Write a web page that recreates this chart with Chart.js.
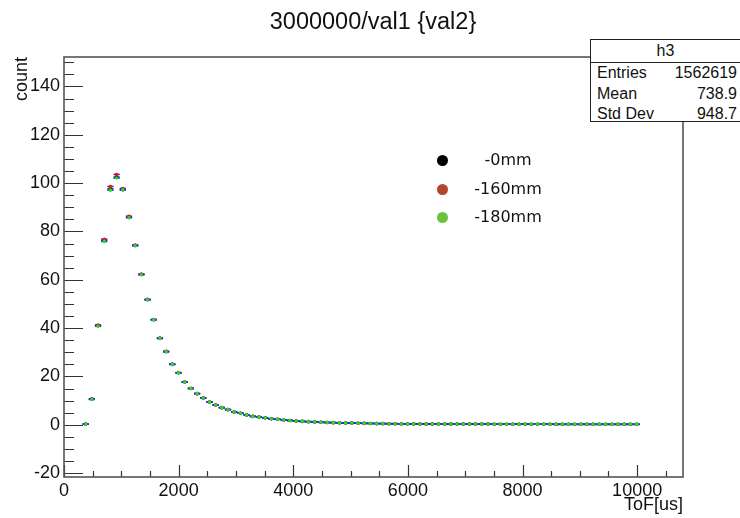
<!DOCTYPE html>
<html lang="en">
<head>
  <meta charset="UTF-8">
  <title>3000000/val1 {val2}</title>
  <script src="https://cdn.jsdelivr.net/npm/chart.js"></script>
  <style>
    body { margin: 0; background: #fff; }
    .wrap { position: relative; width: 740px; height: 518px; }
    .title {
      position: absolute; left: 0; width: 746px; top: 8px;
      text-align: center; font: 23.5px "Liberation Sans", Arial, sans-serif; color: #111;
    }
    .stats {
      position: absolute; left: 590px; top: 39px; width: 149px; height: 81px;
      border: 1px solid #222; background: #fff;
      font: 16px "Liberation Sans", Arial, sans-serif; color: #111;
    }
    .stats .head { height: 22px; line-height: 22px; text-align: center; border-bottom: 1px solid #222; }
    .stats .row { height: 20.5px; line-height: 20.5px; padding: 0 3px 0 6px; display: flex; justify-content: space-between; }
    .legend { position: absolute; left: 420px; top: 146px; font: 16px "DejaVu Sans", sans-serif; color: #111; }
    .legend .item { position: relative; height: 28.5px; width: 160px; }
    .legend .dot { position: absolute; left: 17px; top: 9px; width: 11px; height: 11px; border-radius: 50%; }
    .legend .lbl { position: absolute; left: 48px; width: 80px; top: 4px; text-align: center; }
  </style>
</head>
<body>
  <div class="wrap">
    <canvas id="tofChart" width="740" height="518"></canvas>
    <div class="title">3000000/val1 {val2}</div>
    <div class="legend" id="legend"></div>
    <div class="stats">
      <div class="head">h3</div>
      <div class="row"><span>Entries</span><span>1562619</span></div>
      <div class="row"><span>Mean</span><span>738.9</span></div>
      <div class="row"><span>Std Dev</span><span>948.7</span></div>
    </div>
  </div>

  <script>
    // bin centres of the ToF histogram (us)
    const binCenters = [
      378, 486, 594, 702, 810, 918, 1026, 1134, 1242, 1350,
      1458, 1566, 1674, 1782, 1890, 1998, 2106, 2214, 2322, 2430,
      2538, 2646, 2754, 2862, 2970, 3078, 3186, 3294, 3402, 3510,
      3618, 3726, 3834, 3942, 4050, 4158, 4266, 4374, 4482, 4590,
      4698, 4806, 4914, 5022, 5130, 5238, 5346, 5454, 5562, 5670,
      5778, 5886, 5994, 6102, 6210, 6318, 6426, 6534, 6642, 6750,
      6858, 6966, 7074, 7182, 7290, 7398, 7506, 7614, 7722, 7830,
      7938, 8046, 8154, 8262, 8370, 8478, 8586, 8694, 8802, 8910,
      9018, 9126, 9234, 9342, 9450, 9558, 9666, 9774, 9882, 9990
    ];
    const seriesNames = ['-0mm', '-160mm', '-180mm'];
    const counts0 = [
      0.3, 10.6, 41.0, 76.2, 97.6, 102.5, 97.3, 85.9, 74.2, 62.2,
      51.8, 43.5, 35.8, 30.3, 25.0, 21.5, 17.7, 15.0, 12.9, 11.1,
      9.4, 8.2, 7.1, 6.3, 5.3, 4.8, 4.1, 3.5, 3.2, 2.9,
      2.5, 2.3, 2.0, 1.8, 1.6, 1.4, 1.3, 1.2, 1.05, 0.95,
      0.9, 0.8, 0.75, 0.7, 0.65, 0.6, 0.55, 0.5, 0.5, 0.45,
      0.45, 0.4, 0.4, 0.4, 0.35, 0.35, 0.35, 0.35, 0.3, 0.3,
      0.3, 0.3, 0.3, 0.3, 0.3, 0.3, 0.25, 0.25, 0.25, 0.25,
      0.25, 0.25, 0.25, 0.25, 0.25, 0.25, 0.2, 0.2, 0.2, 0.2,
      0.2, 0.2, 0.2, 0.2, 0.2, 0.2, 0.2, 0.2, 0.2, 0.2
    ];
    const counts160 = [
      0.3, 10.8, 41.3, 76.8, 98.6, 103.6, 97.8, 86.3, 74.4, 62.4,
      51.9, 43.6, 35.9, 30.4, 25.1, 21.6, 17.8, 15.1, 12.9, 11.1,
      9.4, 8.2, 7.1, 6.3, 5.3, 4.8, 4.1, 3.5, 3.2, 2.9,
      2.5, 2.3, 2.0, 1.8, 1.6, 1.4, 1.3, 1.2, 1.05, 0.95,
      0.9, 0.8, 0.75, 0.7, 0.65, 0.6, 0.55, 0.5, 0.5, 0.45,
      0.45, 0.4, 0.4, 0.4, 0.35, 0.35, 0.35, 0.35, 0.3, 0.3,
      0.3, 0.3, 0.3, 0.3, 0.3, 0.3, 0.25, 0.25, 0.25, 0.25,
      0.25, 0.25, 0.25, 0.25, 0.25, 0.25, 0.2, 0.2, 0.2, 0.2,
      0.2, 0.2, 0.2, 0.2, 0.2, 0.2, 0.2, 0.2, 0.2, 0.2
    ];
    const counts180 = [
      0.3, 10.5, 40.8, 75.9, 97.1, 102.1, 97.2, 85.7, 74.1, 62.1,
      51.7, 43.4, 35.7, 30.2, 25.0, 21.5, 17.7, 15.0, 12.9, 11.1,
      9.4, 8.2, 7.1, 6.3, 5.3, 4.8, 4.1, 3.5, 3.2, 2.9,
      2.5, 2.3, 2.0, 1.8, 1.6, 1.4, 1.3, 1.2, 1.05, 0.95,
      0.9, 0.8, 0.75, 0.7, 0.65, 0.6, 0.55, 0.5, 0.5, 0.45,
      0.45, 0.4, 0.4, 0.4, 0.35, 0.35, 0.35, 0.35, 0.3, 0.3,
      0.3, 0.3, 0.3, 0.3, 0.3, 0.3, 0.25, 0.25, 0.25, 0.25,
      0.25, 0.25, 0.25, 0.25, 0.25, 0.25, 0.2, 0.2, 0.2, 0.2,
      0.2, 0.2, 0.2, 0.2, 0.2, 0.2, 0.2, 0.2, 0.2, 0.2
    ];
    const xTicks = [0, 2000, 4000, 6000, 8000, 10000];
    const yTicks = [-20, 0, 20, 40, 60, 80, 100, 120, 140];

    const markerColors = ['#000000', '#f01010', '#22e022'];
    const legendColors = ['#000000', '#b5442f', '#6cc23e'];
    const errColor = '#2b2bc0';

    function toPoints(vals) {
      return binCenters.map((x, i) => ({ x: x, y: vals[i] }));
    }

    const allCounts = [counts0, counts160, counts180];
    const datasets = [];
    allCounts.forEach((vals, s) => {
      // horizontal error bar = bin width, drawn as a line marker
      datasets.push({
        label: seriesNames[s] + ' err',
        data: toPoints(vals),
        showLine: false,
        pointStyle: 'line',
        pointRadius: 3.1,
        pointBorderWidth: 1.6,
        pointBorderColor: errColor,
        order: 10 - s * 2
      });
      datasets.push({
        label: seriesNames[s],
        data: toPoints(vals),
        showLine: false,
        pointStyle: 'circle',
        pointRadius: 1.8,
        pointBorderWidth: 0,
        pointBackgroundColor: markerColors[s],
        order: 9 - s * 2
      });
    });

    // inward ticks and frame like a ROOT canvas
    const frameTicks = {
      id: 'frameTicks',
      afterDatasetsDraw(chart) {
        const { ctx, chartArea: a, scales: { x, y } } = chart;
        ctx.save();
        ctx.strokeStyle = '#333';
        ctx.lineWidth = 1.2;
        ctx.beginPath();
        for (let v = Math.ceil(y.min / 5) * 5; v <= y.max; v += 5) {
          const py = Math.round(y.getPixelForValue(v)) + 0.5;
          const len = (v % 20 === 0) ? 19 : 10;
          ctx.moveTo(a.left, py);
          ctx.lineTo(a.left + len, py);
        }
        for (let v = Math.ceil(x.min / 500) * 500; v <= x.max; v += 500) {
          const px = Math.round(x.getPixelForValue(v)) + 0.5;
          const len = (v % 2000 === 0) ? 12 : 6;
          ctx.moveTo(px, a.bottom);
          ctx.lineTo(px, a.bottom - len);
        }
        ctx.stroke();
        ctx.strokeStyle = '#555';
        ctx.lineWidth = 1.6;
        ctx.strokeRect(a.left, a.top, a.right - a.left, a.bottom - a.top);
        ctx.restore();
      }
    };

    const tickFont = { family: '"Liberation Sans", Arial, sans-serif', size: 18 };

    new Chart(document.getElementById('tofChart'), {
      type: 'scatter',
      data: { datasets: datasets },
      plugins: [frameTicks],
      options: {
        responsive: false,
        animation: false,
        layout: { padding: { top: 57, right: 57, left: 0, bottom: 0 } },
        plugins: {
          legend: { display: false },
          tooltip: { enabled: false },
          title: { display: false }
        },
        scales: {
          x: {
            type: 'linear',
            min: 0,
            max: 10800,
            afterFit(scale) { scale.height = 41; },
            afterBuildTicks(scale) { scale.ticks = xTicks.map(v => ({ value: v })); },
            grid: { display: false, drawTicks: false },
            border: { display: false },
            ticks: { color: '#111', font: tickFont, padding: 3, maxRotation: 0, callback: v => String(v) },
            title: {
              display: true, text: 'ToF[us]', align: 'end', color: '#111',
              font: tickFont, padding: { top: 0, bottom: 2 }
            }
          },
          y: {
            type: 'linear',
            min: -21.6,
            max: 152.2,
            afterFit(scale) { scale.width = 64; },
            afterBuildTicks(scale) { scale.ticks = yTicks.map(v => ({ value: v })); },
            grid: { display: false, drawTicks: false },
            border: { display: false },
            ticks: { color: '#111', font: tickFont, padding: 4, callback: v => String(v) },
            title: {
              display: true, text: 'count', align: 'end', color: '#111',
              font: tickFont, padding: { top: 11, bottom: 0 }
            }
          }
        }
      }
    });

    // legend box inside the frame
    const legendEl = document.getElementById('legend');
    seriesNames.forEach((name, s) => {
      const item = document.createElement('div');
      item.className = 'item';
      item.innerHTML = '<span class="dot" style="background:' + legendColors[s] + '"></span>' +
                       '<span class="lbl">' + name + '</span>';
      legendEl.appendChild(item);
    });
  </script>
</body>
</html>
